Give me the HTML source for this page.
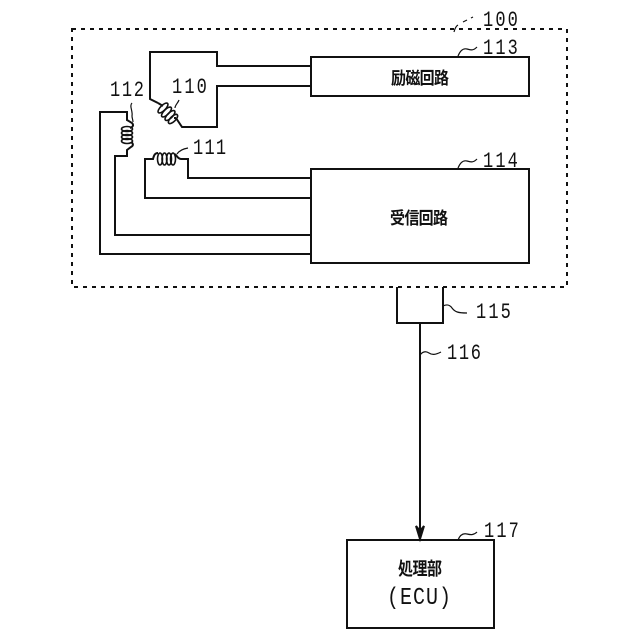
<!DOCTYPE html>
<html><head><meta charset="utf-8"><style>
html,body{margin:0;padding:0;background:#fff}
svg{display:block}
text{fill:#111}
.n{font-family:"Liberation Mono",monospace;font-size:20px}
.j{font-family:"Liberation Sans","Noto Sans CJK JP",sans-serif;font-size:15px;font-weight:700}
</style></head><body>
<svg width="640" height="640" viewBox="0 0 640 640" xmlns="http://www.w3.org/2000/svg">
<g fill="none" stroke="#111" stroke-width="2">
<rect x="72" y="29" width="495" height="258" stroke-dasharray="4 5"/>
<rect x="311" y="57" width="218" height="39"/>
<rect x="311" y="169" width="218" height="94"/>
<path d="M397 287V323H443V287"/>
<rect x="347" y="540" width="147" height="88"/>
<path d="M420 323V532"/>
<path d="M420 539L416 526L420 531L424 526Z" fill="#111"/>
<path d="M311 66H217V52H150V99L158 103"/>
<path d="M311 86H217V127H182L176 118"/>
<path d="M158 103L163 106M174 118L176 118"/>
<g stroke-width="1.6">
<ellipse cx="163" cy="108" rx="6.5" ry="2.6" transform="rotate(-45 163 108)"/>
<ellipse cx="166.500" cy="112" rx="6.5" ry="2.6" transform="rotate(-45 166.500 112)"/>
<ellipse cx="170" cy="115.500" rx="6.500" ry="2.6" transform="rotate(-45 170 115.500)"/>
<ellipse cx="173" cy="119" rx="6" ry="2.6" transform="rotate(-45 173 119)"/>
<ellipse cx="127" cy="129" rx="5.500" ry="2.5"/>
<ellipse cx="127" cy="133" rx="5.500" ry="2.5"/>
<ellipse cx="127" cy="137" rx="5.500" ry="2.5"/>
<ellipse cx="127" cy="141" rx="5.500" ry="2.5"/>
<ellipse cx="160" cy="159" rx="2.500" ry="6"/>
<ellipse cx="164.500" cy="159" rx="2.500" ry="6"/>
<ellipse cx="169" cy="159" rx="2.500" ry="6"/>
<ellipse cx="173" cy="159" rx="2.500" ry="6"/>
</g>
<path d="M179 100c-1 3 -4 5 -4 8" stroke-width="1.2"/>
<path d="M311 254H100V112H127V120L132 123C134 125 133 127 130 128"/>
<path d="M131 142C134 144 133 146 131 147L127 150V156H115V235H311"/>
<path d="M132 103c-3 3 1 8 0 13c0 2 1 4 1 6" stroke-width="1.2"/>
<path d="M311 198H145V159H153C154 155 155 153 158 153M175 154C177 156 178 159 181 159H188V178H311"/>
<path d="M177 154c2 -3 5 -5 11 -6" stroke-width="1.2"/>
<path d="M454 32c1 -4 2 -6 4 -7M463 22l4 -2M471 18l2 -1" stroke-width="1.2"/>
<path d="M458 56c2 -5 5 -8 9 -7c4 1 6 2 10 -2" stroke-width="1.2"/>
<path d="M458 168c2 -5 5 -8 9 -7c4 1 6 2 10 -2" stroke-width="1.2"/>
<path d="M443 306c4 -2 7 -1 9 2c3 4 6 5 15 5" stroke-width="1.2"/>
<path d="M420 355c3 -4 6 -4 9 -2c3 2 6 2 12 -1" stroke-width="1.2"/>
<path d="M458 540c2 -5 5 -7 9 -6c4 1 7 1 10 -2" stroke-width="1.2"/>
</g>
<g class="n">
<text class="n" transform="translate(483 26) scale(.85 1.12)" textLength="41" lengthAdjust="spacing">100</text>
<text class="n" transform="translate(483 54) scale(.85 1.12)" textLength="41" lengthAdjust="spacing">113</text>
<text class="n" transform="translate(483 167) scale(.85 1.12)" textLength="41" lengthAdjust="spacing">114</text>
<text class="n" transform="translate(476 318) scale(.85 1.12)" textLength="41" lengthAdjust="spacing">115</text>
<text class="n" transform="translate(447 359) scale(.85 1.12)" textLength="40" lengthAdjust="spacing">116</text>
<text class="n" transform="translate(484 537) scale(.85 1.12)" textLength="41" lengthAdjust="spacing">117</text>
<text class="n" transform="translate(110 96) scale(.85 1.12)" textLength="40" lengthAdjust="spacing">112</text>
<text class="n" transform="translate(172 93) scale(.85 1.12)" textLength="41" lengthAdjust="spacing">110</text>
<text class="n" transform="translate(193 154) scale(.85 1.12)" textLength="39" lengthAdjust="spacing">111</text>
</g>
<text class="j" transform="translate(391 84) scale(1 1.15)" textLength="58" lengthAdjust="spacing">励磁回路</text>
<text class="j" transform="translate(390 224) scale(1 1.15)" textLength="58" lengthAdjust="spacing">受信回路</text>
<text class="j" transform="translate(398 575) scale(1 1.2)" textLength="44" lengthAdjust="spacing">処理部</text>
<text class="n" transform="translate(387 604) scale(1 1.2)" textLength="64" lengthAdjust="spacing">(ECU)</text>
</svg>
</body></html>
